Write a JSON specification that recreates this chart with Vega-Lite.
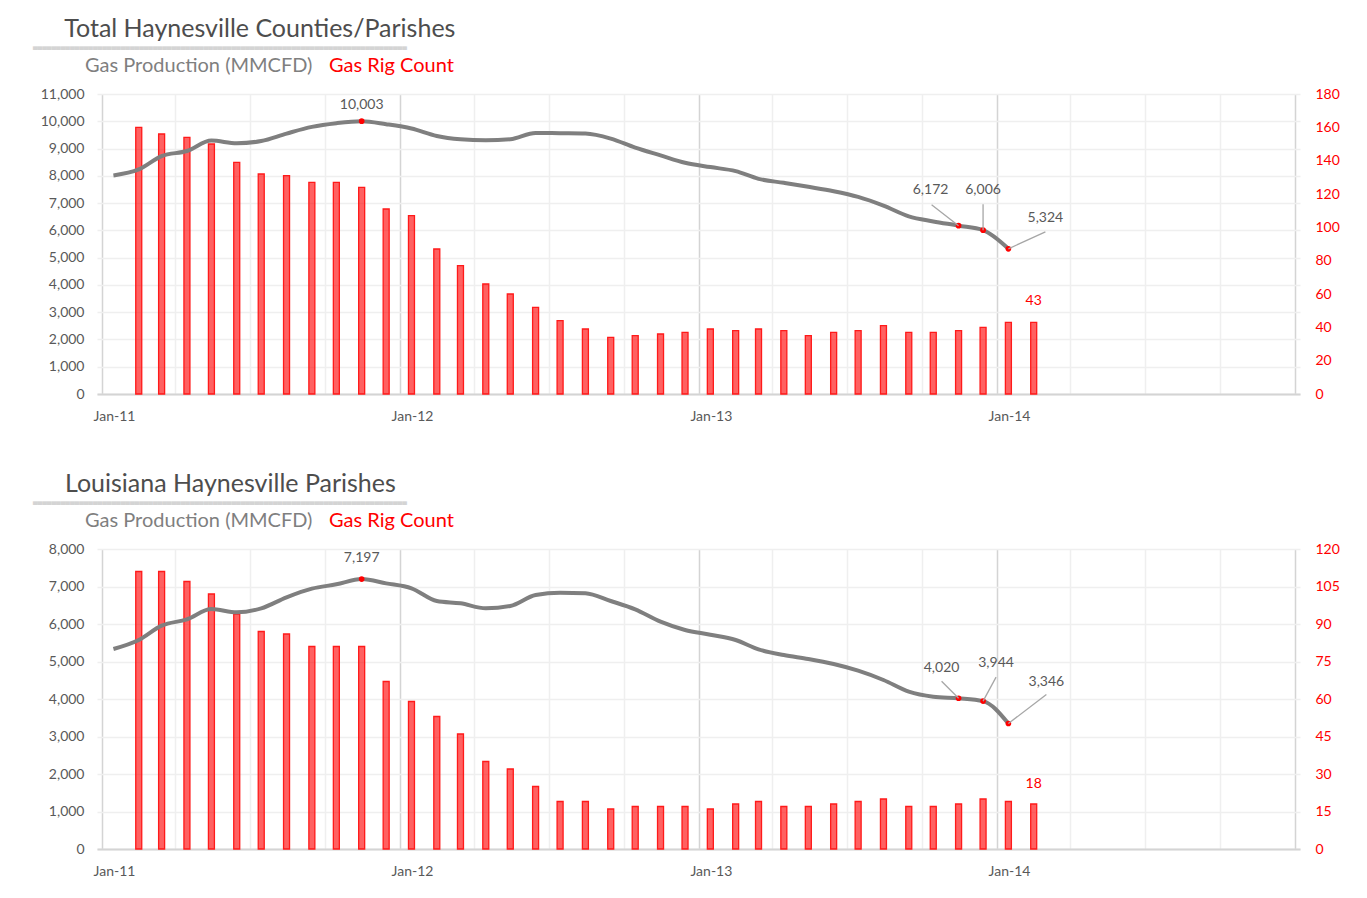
{
  "$schema": "https://vega.github.io/schema/vega-lite/v6.json",
  "description": "Haynesville gas production and gas rig count, monthly 2011-2014.",
  "padding": {"left": 33, "top": 17, "right": 0, "bottom": 0},
  "datasets": {
    "total": [
      {"month": "2011-01-15", "gas": 8013, "rigs": null},
      {"month": "2011-02-15", "gas": 8234, "rigs": 160},
      {"month": "2011-03-15", "gas": 8725, "rigs": 156},
      {"month": "2011-04-15", "gas": 8910, "rigs": 154},
      {"month": "2011-05-15", "gas": 9292, "rigs": 150},
      {"month": "2011-06-15", "gas": 9192, "rigs": 139},
      {"month": "2011-07-15", "gas": 9277, "rigs": 132},
      {"month": "2011-08-15", "gas": 9549, "rigs": 131},
      {"month": "2011-09-15", "gas": 9794, "rigs": 127},
      {"month": "2011-10-15", "gas": 9930, "rigs": 127},
      {"month": "2011-11-15", "gas": 10003, "rigs": 124},
      {"month": "2011-12-15", "gas": 9893, "rigs": 111},
      {"month": "2012-01-15", "gas": 9734, "rigs": 107},
      {"month": "2012-02-15", "gas": 9462, "rigs": 87},
      {"month": "2012-03-15", "gas": 9340, "rigs": 77},
      {"month": "2012-04-15", "gas": 9300, "rigs": 66},
      {"month": "2012-05-15", "gas": 9340, "rigs": 60},
      {"month": "2012-06-15", "gas": 9573, "rigs": 52},
      {"month": "2012-07-15", "gas": 9561, "rigs": 44},
      {"month": "2012-08-15", "gas": 9549, "rigs": 39},
      {"month": "2012-09-15", "gas": 9365, "rigs": 34},
      {"month": "2012-10-15", "gas": 9034, "rigs": 35},
      {"month": "2012-11-15", "gas": 8750, "rigs": 36},
      {"month": "2012-12-15", "gas": 8481, "rigs": 37},
      {"month": "2013-01-15", "gas": 8320, "rigs": 39},
      {"month": "2013-02-15", "gas": 8172, "rigs": 38},
      {"month": "2013-03-15", "gas": 7890, "rigs": 39},
      {"month": "2013-04-15", "gas": 7743, "rigs": 38},
      {"month": "2013-05-15", "gas": 7596, "rigs": 35},
      {"month": "2013-06-15", "gas": 7435, "rigs": 37},
      {"month": "2013-07-15", "gas": 7227, "rigs": 38},
      {"month": "2013-08-15", "gas": 6906, "rigs": 41},
      {"month": "2013-09-15", "gas": 6513, "rigs": 37},
      {"month": "2013-10-15", "gas": 6328, "rigs": 37},
      {"month": "2013-11-15", "gas": 6172, "rigs": 38},
      {"month": "2013-12-15", "gas": 6006, "rigs": 40},
      {"month": "2014-01-15", "gas": 5324, "rigs": 43},
      {"month": "2014-02-15", "gas": null, "rigs": 43}
    ],
    "louisiana": [
      {"month": "2011-01-15", "gas": 5333, "rigs": null},
      {"month": "2011-02-15", "gas": 5573, "rigs": 111},
      {"month": "2011-03-15", "gas": 5955, "rigs": 111},
      {"month": "2011-04-15", "gas": 6125, "rigs": 107},
      {"month": "2011-05-15", "gas": 6400, "rigs": 102},
      {"month": "2011-06-15", "gas": 6311, "rigs": 94},
      {"month": "2011-07-15", "gas": 6418, "rigs": 87},
      {"month": "2011-08-15", "gas": 6711, "rigs": 86},
      {"month": "2011-09-15", "gas": 6942, "rigs": 81},
      {"month": "2011-10-15", "gas": 7058, "rigs": 81},
      {"month": "2011-11-15", "gas": 7197, "rigs": 81},
      {"month": "2011-12-15", "gas": 7084, "rigs": 67},
      {"month": "2012-01-15", "gas": 6951, "rigs": 59},
      {"month": "2012-02-15", "gas": 6613, "rigs": 53},
      {"month": "2012-03-15", "gas": 6551, "rigs": 46},
      {"month": "2012-04-15", "gas": 6420, "rigs": 35},
      {"month": "2012-05-15", "gas": 6480, "rigs": 32},
      {"month": "2012-06-15", "gas": 6773, "rigs": 25},
      {"month": "2012-07-15", "gas": 6836, "rigs": 19},
      {"month": "2012-08-15", "gas": 6818, "rigs": 19},
      {"month": "2012-09-15", "gas": 6613, "rigs": 16},
      {"month": "2012-10-15", "gas": 6391, "rigs": 17},
      {"month": "2012-11-15", "gas": 6062, "rigs": 17},
      {"month": "2012-12-15", "gas": 5840, "rigs": 17},
      {"month": "2013-01-15", "gas": 5715, "rigs": 16},
      {"month": "2013-02-15", "gas": 5573, "rigs": 18},
      {"month": "2013-03-15", "gas": 5324, "rigs": 19},
      {"month": "2013-04-15", "gas": 5173, "rigs": 17},
      {"month": "2013-05-15", "gas": 5067, "rigs": 17},
      {"month": "2013-06-15", "gas": 4933, "rigs": 18},
      {"month": "2013-07-15", "gas": 4756, "rigs": 19},
      {"month": "2013-08-15", "gas": 4507, "rigs": 20},
      {"month": "2013-09-15", "gas": 4196, "rigs": 17},
      {"month": "2013-10-15", "gas": 4062, "rigs": 17},
      {"month": "2013-11-15", "gas": 4020, "rigs": 18},
      {"month": "2013-12-15", "gas": 3944, "rigs": 20},
      {"month": "2014-01-15", "gas": 3346, "rigs": 19},
      {"month": "2014-02-15", "gas": null, "rigs": 18}
    ]
  },
  "vconcat": [
    {
      "title": {
        "text": "\u200b\u00a0\u00a0\u00a0\u00a0\u00a0Total Haynesville Counties/Parishes",
        "subtitle": "▀▀▀▀▀▀▀▀▀▀▀▀▀▀▀▀▀▀▀▀▀▀▀▀▀▀▀▀▀▀▀▀▀▀▀▀▀▀▀▀▀▀▀▀▀▀▀▀▀▀▀▀▀▀▀▀▀▀▀▀▀▀▀▀▀▀▀▀▀▀▀▀▀▀▀▀▀▀▀▀▀",
        "frame": "group",
        "dx": -64
      },
      "width": 1203,
      "height": 300,
      "data": {"name": "total"},
      "encoding": {
        "x": {
          "field": "month",
          "type": "temporal",
          "title": null,
          "scale": {
            "type": "utc",
            "domain": [
              {"year": 2011, "month": 1, "date": 1, "utc": true},
              {"year": 2015, "month": 1, "date": 1, "utc": true}
            ]
          },
          "axis": {
            "tickCount": {"interval": "month", "step": 3},
            "labelExpr": "utcmonth(datum.value) == 0 && utcyear(datum.value) < 2015 ? utcFormat(datum.value, '%b-%y') : ''",
            "labelOffset": 12,
            "gridColor": {
              "condition": {"test": "utcmonth(datum.value) == 0", "value": "#D4D4D4"},
              "value": "#EFEFEF"
            }
          }
        }
      },
      "layer": [
        {
          "encoding": {
            "y": {
              "field": "rigs",
              "type": "quantitative",
              "title": null,
              "scale": {"domain": [0, 180], "nice": false},
              "axis": {
                "orient": "right",
                "values": [0, 20, 40, 60, 80, 100, 120, 140, 160, 180],
                "labelColor": "#FF0000",
                "grid": false,
                "labelPadding": 15
              }
            }
          },
          "layer": [
            {
              "mark": {"type": "bar", "width": 6, "fillOpacity": 0.62, "stroke": "#FF1A1A", "strokeWidth": 1.3},
              "encoding": {
                "color": {
                  "datum": "Gas Rig Count",
                  "scale": {"domain": ["Gas Production (MMCFD)", "Gas Rig Count"], "range": ["#7F7F7F", "#FF0000"]},
                  "legend": {
                    "orient": "none",
                    "legendX": -12,
                    "legendY": -38,
                    "direction": "horizontal",
                    "title": null,
                    "symbolSize": 0,
                    "symbolOpacity": 0,
                    "symbolStrokeWidth": 0,
                    "labelOffset": -20,
                    "labelFontSize": 20,
                    "labelLimit": 400,
                    "columnPadding": 16,
                    "labelColor": {"expr": "datum.label == 'Gas Rig Count' ? '#FF0000' : '#7F7F7F'"}
                  }
                }
              }
            },
            {
              "transform": [{"filter": "!isValid(datum.gas)"}],
              "mark": {"type": "text", "color": "#FF0000", "fontSize": 14, "dy": -21},
              "encoding": {"text": {"field": "rigs", "type": "quantitative"}}
            }
          ]
        },
        {
          "encoding": {
            "y": {
              "field": "gas",
              "type": "quantitative",
              "title": null,
              "scale": {"domain": [0, 11000], "nice": false},
              "axis": {
                "orient": "left",
                "values": [0, 1000, 2000, 3000, 4000, 5000, 6000, 7000, 8000, 9000, 10000, 11000],
                "format": ",.0f",
                "grid": true,
                "labelPadding": 13
              }
            }
          },
          "layer": [
            {
              "mark": {"type": "line", "strokeWidth": 4, "interpolate": "monotone"},
              "encoding": {"color": {"datum": "Gas Production (MMCFD)"}}
            },
            {
              "transform": [{"filter": "datum.gas == 10003 || datum.gas == 6172 || datum.gas == 6006 || datum.gas == 5324"}],
              "mark": {"type": "point", "filled": true, "color": "#FF0000", "size": 32, "opacity": 1}
            },
            {
              "transform": [{"filter": "datum.gas == 10003"}],
              "mark": {"type": "text", "color": "#595959", "fontSize": 14, "dy": -16},
              "encoding": {"text": {"field": "gas", "type": "quantitative", "format": ","}}
            },
            {
              "transform": [{"filter": "datum.gas == 6172"}],
              "mark": {"type": "rule", "color": "#A6A6A6", "strokeWidth": 1.3, "x2Offset": -27, "y2Offset": -21},
              "encoding": {"x2": {"field": "month"}, "y2": {"field": "gas"}}
            },
            {
              "transform": [{"filter": "datum.gas == 6172"}],
              "mark": {"type": "text", "color": "#595959", "fontSize": 14, "dx": -28, "dy": -36},
              "encoding": {"text": {"field": "gas", "type": "quantitative", "format": ","}}
            },
            {
              "transform": [{"filter": "datum.gas == 6006"}],
              "mark": {"type": "rule", "color": "#A6A6A6", "strokeWidth": 1.3, "x2Offset": 0, "y2Offset": -26},
              "encoding": {"x2": {"field": "month"}, "y2": {"field": "gas"}}
            },
            {
              "transform": [{"filter": "datum.gas == 6006"}],
              "mark": {"type": "text", "color": "#595959", "fontSize": 14, "dx": 0, "dy": -40},
              "encoding": {"text": {"field": "gas", "type": "quantitative", "format": ","}}
            },
            {
              "transform": [{"filter": "datum.gas == 5324"}],
              "mark": {"type": "rule", "color": "#A6A6A6", "strokeWidth": 1.3, "x2Offset": 37, "y2Offset": -17},
              "encoding": {"x2": {"field": "month"}, "y2": {"field": "gas"}}
            },
            {
              "transform": [{"filter": "datum.gas == 5324"}],
              "mark": {"type": "text", "color": "#595959", "fontSize": 14, "dx": 37, "dy": -31},
              "encoding": {"text": {"field": "gas", "type": "quantitative", "format": ","}}
            }
          ]
        }
      ],
      "resolve": {"scale": {"y": "independent"}}
    },
    {
      "title": {
        "text": "\u200b\u00a0\u00a0\u00a0\u00a0\u00a0Louisiana Haynesville Parishes",
        "subtitle": "▀▀▀▀▀▀▀▀▀▀▀▀▀▀▀▀▀▀▀▀▀▀▀▀▀▀▀▀▀▀▀▀▀▀▀▀▀▀▀▀▀▀▀▀▀▀▀▀▀▀▀▀▀▀▀▀▀▀▀▀▀▀▀▀▀▀▀▀▀▀▀▀▀▀▀▀▀▀▀▀▀",
        "frame": "group",
        "dx": -64
      },
      "width": 1203,
      "height": 300,
      "data": {"name": "louisiana"},
      "encoding": {
        "x": {
          "field": "month",
          "type": "temporal",
          "title": null,
          "scale": {
            "type": "utc",
            "domain": [
              {"year": 2011, "month": 1, "date": 1, "utc": true},
              {"year": 2015, "month": 1, "date": 1, "utc": true}
            ]
          },
          "axis": {
            "tickCount": {"interval": "month", "step": 3},
            "labelExpr": "utcmonth(datum.value) == 0 && utcyear(datum.value) < 2015 ? utcFormat(datum.value, '%b-%y') : ''",
            "labelOffset": 12,
            "gridColor": {
              "condition": {"test": "utcmonth(datum.value) == 0", "value": "#D4D4D4"},
              "value": "#EFEFEF"
            }
          }
        }
      },
      "layer": [
        {
          "encoding": {
            "y": {
              "field": "rigs",
              "type": "quantitative",
              "title": null,
              "scale": {"domain": [0, 120], "nice": false},
              "axis": {
                "orient": "right",
                "values": [0, 15, 30, 45, 60, 75, 90, 105, 120],
                "labelColor": "#FF0000",
                "grid": false,
                "labelPadding": 15
              }
            }
          },
          "layer": [
            {
              "mark": {"type": "bar", "width": 6, "fillOpacity": 0.62, "stroke": "#FF1A1A", "strokeWidth": 1.3},
              "encoding": {
                "color": {
                  "datum": "Gas Rig Count",
                  "scale": {"domain": ["Gas Production (MMCFD)", "Gas Rig Count"], "range": ["#7F7F7F", "#FF0000"]},
                  "legend": {
                    "orient": "none",
                    "legendX": -12,
                    "legendY": -38,
                    "direction": "horizontal",
                    "title": null,
                    "symbolSize": 0,
                    "symbolOpacity": 0,
                    "symbolStrokeWidth": 0,
                    "labelOffset": -20,
                    "labelFontSize": 20,
                    "labelLimit": 400,
                    "columnPadding": 16,
                    "labelColor": {"expr": "datum.label == 'Gas Rig Count' ? '#FF0000' : '#7F7F7F'"}
                  }
                }
              }
            },
            {
              "transform": [{"filter": "!isValid(datum.gas)"}],
              "mark": {"type": "text", "color": "#FF0000", "fontSize": 14, "dy": -20},
              "encoding": {"text": {"field": "rigs", "type": "quantitative"}}
            }
          ]
        },
        {
          "encoding": {
            "y": {
              "field": "gas",
              "type": "quantitative",
              "title": null,
              "scale": {"domain": [0, 8000], "nice": false},
              "axis": {
                "orient": "left",
                "values": [0, 1000, 2000, 3000, 4000, 5000, 6000, 7000, 8000],
                "format": ",.0f",
                "grid": true,
                "labelPadding": 13
              }
            }
          },
          "layer": [
            {
              "mark": {"type": "line", "strokeWidth": 4, "interpolate": "monotone"},
              "encoding": {"color": {"datum": "Gas Production (MMCFD)"}}
            },
            {
              "transform": [{"filter": "datum.gas == 7197 || datum.gas == 4020 || datum.gas == 3944 || datum.gas == 3346"}],
              "mark": {"type": "point", "filled": true, "color": "#FF0000", "size": 32, "opacity": 1}
            },
            {
              "transform": [{"filter": "datum.gas == 7197"}],
              "mark": {"type": "text", "color": "#595959", "fontSize": 14, "dy": -21},
              "encoding": {"text": {"field": "gas", "type": "quantitative", "format": ","}}
            },
            {
              "transform": [{"filter": "datum.gas == 4020"}],
              "mark": {"type": "rule", "color": "#A6A6A6", "strokeWidth": 1.3, "x2Offset": -17, "y2Offset": -17},
              "encoding": {"x2": {"field": "month"}, "y2": {"field": "gas"}}
            },
            {
              "transform": [{"filter": "datum.gas == 4020"}],
              "mark": {"type": "text", "color": "#595959", "fontSize": 14, "dx": -17, "dy": -30},
              "encoding": {"text": {"field": "gas", "type": "quantitative", "format": ","}}
            },
            {
              "transform": [{"filter": "datum.gas == 3944"}],
              "mark": {"type": "rule", "color": "#A6A6A6", "strokeWidth": 1.3, "x2Offset": 13, "y2Offset": -24},
              "encoding": {"x2": {"field": "month"}, "y2": {"field": "gas"}}
            },
            {
              "transform": [{"filter": "datum.gas == 3944"}],
              "mark": {"type": "text", "color": "#595959", "fontSize": 14, "dx": 13, "dy": -38},
              "encoding": {"text": {"field": "gas", "type": "quantitative", "format": ","}}
            },
            {
              "transform": [{"filter": "datum.gas == 3346"}],
              "mark": {"type": "rule", "color": "#A6A6A6", "strokeWidth": 1.3, "x2Offset": 38, "y2Offset": -29},
              "encoding": {"x2": {"field": "month"}, "y2": {"field": "gas"}}
            },
            {
              "transform": [{"filter": "datum.gas == 3346"}],
              "mark": {"type": "text", "color": "#595959", "fontSize": 14, "dx": 38, "dy": -42},
              "encoding": {"text": {"field": "gas", "type": "quantitative", "format": ","}}
            }
          ]
        }
      ],
      "resolve": {"scale": {"y": "independent"}}
    }
  ],
  "spacing": 49,
  "resolve": {"scale": {"color": "independent"}},
  "config": {
    "font": "Lato",
    "view": {"stroke": null},
    "axis": {
      "labelFont": "Lato",
      "labelFontSize": 14,
      "labelColor": "#595959",
      "ticks": false,
      "domain": false,
      "gridColor": "#EFEFEF",
      "gridWidth": 1.5,
      "labelFlush": false,
      "labelOverlap": false,
      "labelBound": false
    },
    "axisX": {
      "domain": true,
      "domainColor": "#D4D4D4",
      "domainWidth": 2,
      "grid": true,
      "labelPadding": 15
    },
    "legend": {"labelFont": "Lato"},
    "title": {
      "anchor": "start",
      "font": "Lato",
      "fontSize": 25,
      "fontWeight": "normal",
      "color": "#4D4D4D",
      "subtitleFont": "DejaVu Sans",
      "subtitleFontSize": 6,
      "subtitleColor": "#D4D4D4",
      "subtitlePadding": 5,
      "offset": 3
    }
  }
}
